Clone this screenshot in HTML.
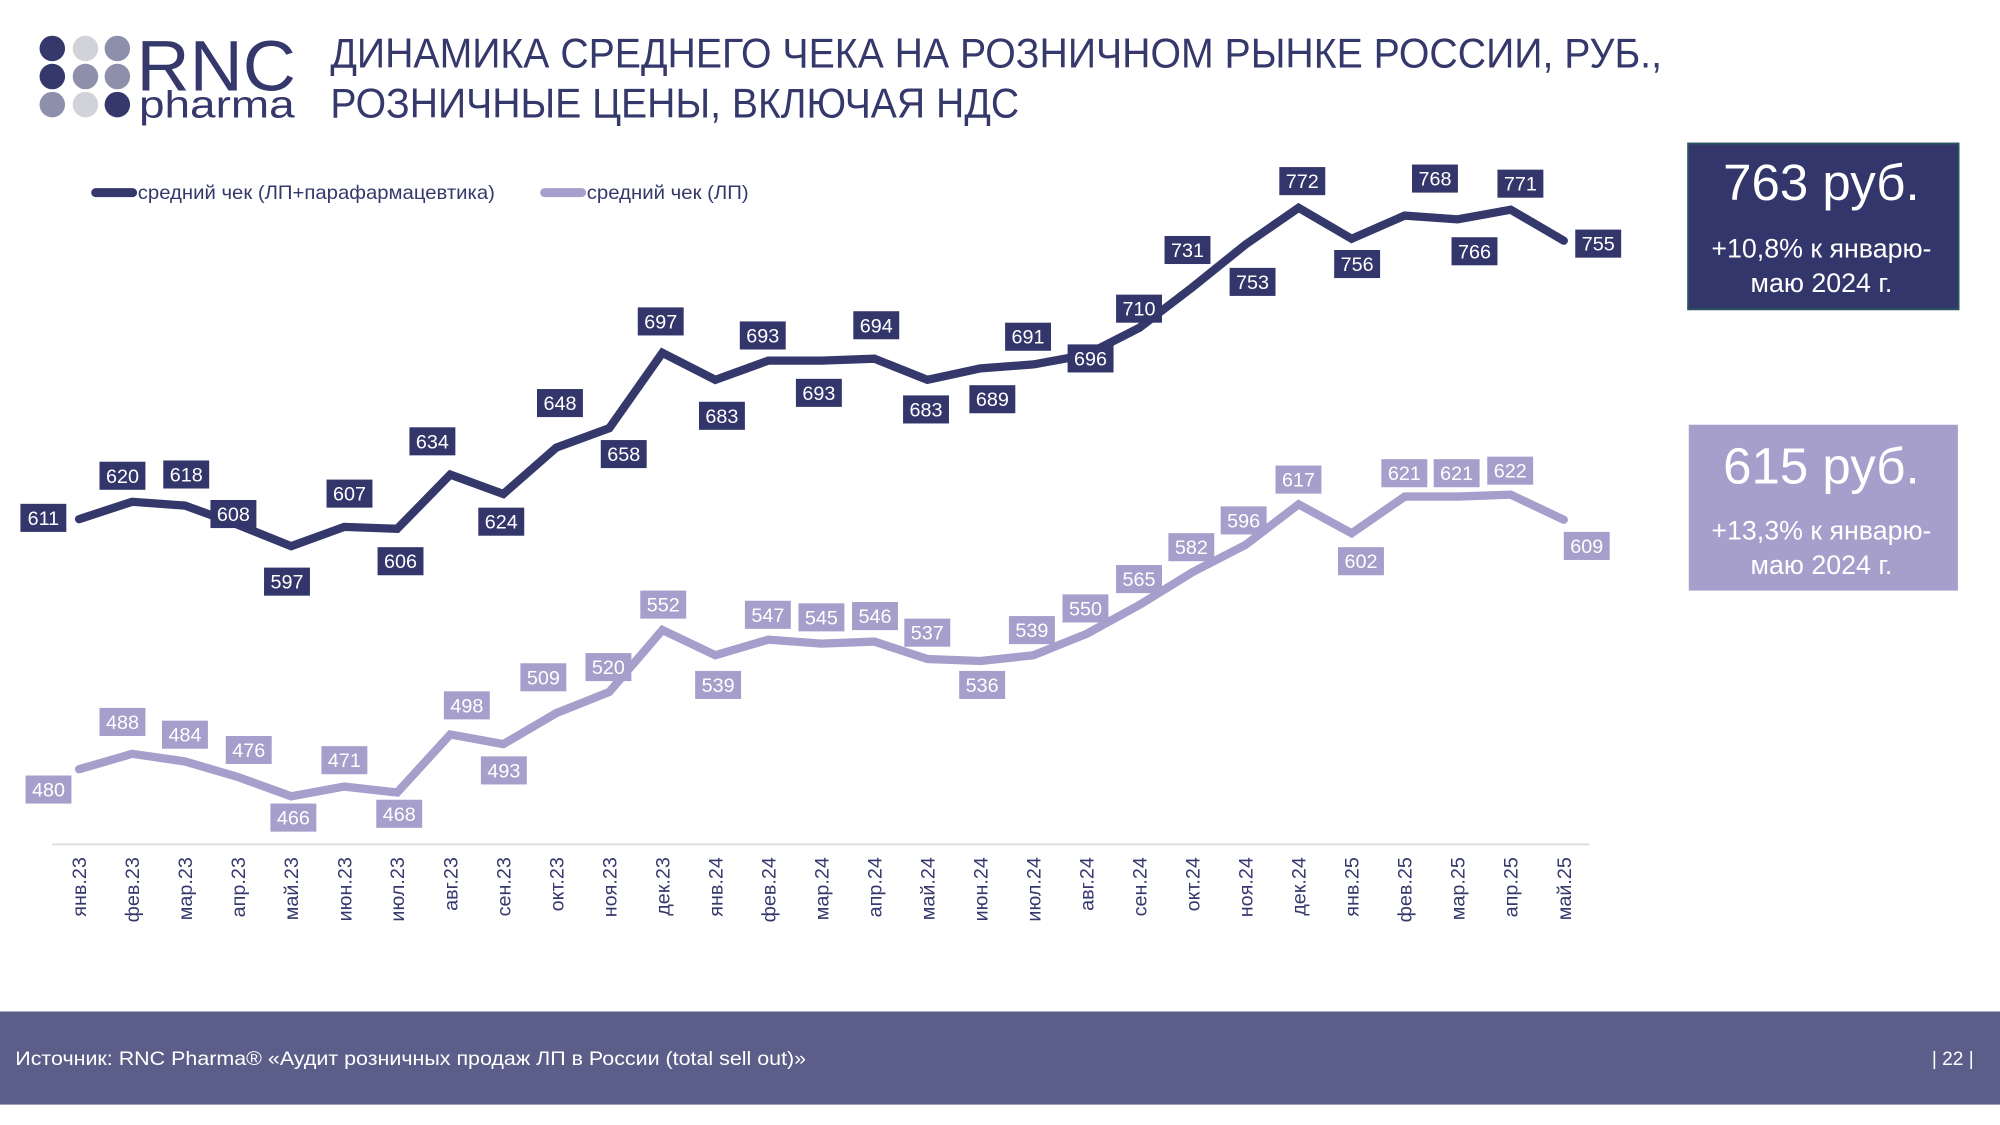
<!DOCTYPE html>
<html><head><meta charset="utf-8">
<style>
html,body{margin:0;padding:0;background:#fff;}
svg{display:block;}
text{font-family:"Liberation Sans",sans-serif;}
</style></head>
<body>
<svg id="s" width="2000" height="1125" viewBox="0 0 1568 882" xmlns="http://www.w3.org/2000/svg">
<rect width="1568" height="882" fill="#fff"/>
<g>
<circle cx="41" cy="38" r="10" fill="#35386b"/><circle cx="67" cy="38" r="10" fill="#d2d2da"/><circle cx="92" cy="38" r="10" fill="#8e8fab"/>
<circle cx="41" cy="60" r="10" fill="#35386b"/><circle cx="67" cy="60" r="10" fill="#8e8fab"/><circle cx="92" cy="60" r="10" fill="#8e8fab"/>
<circle cx="41" cy="82" r="10" fill="#8e8fab"/><circle cx="67" cy="82" r="10" fill="#d2d2da"/><circle cx="92" cy="82" r="10" fill="#35386b"/>
<text x="107" y="71" font-size="56" fill="#35386b" textLength="125" lengthAdjust="spacingAndGlyphs">RNC</text>
<text x="109" y="92" font-size="30" fill="#35386b" textLength="122" lengthAdjust="spacingAndGlyphs">pharma</text>
</g>
<text x="259" y="53" font-size="33" fill="#35386b" textLength="1044" lengthAdjust="spacingAndGlyphs">ДИНАМИКА СРЕДНЕГО ЧЕКА НА РОЗНИЧНОМ РЫНКЕ РОССИИ, РУБ.,</text>
<text x="259" y="92" font-size="33" fill="#35386b" textLength="540" lengthAdjust="spacingAndGlyphs">РОЗНИЧНЫЕ ЦЕНЫ, ВКЛЮЧАЯ НДС</text>
<line x1="75" y1="151" x2="104" y2="151" stroke="#35386b" stroke-width="7" stroke-linecap="round"/>
<text x="108" y="156" font-size="15" fill="#35386b" textLength="280" lengthAdjust="spacingAndGlyphs">средний чек (ЛП+парафармацевтика)</text>
<line x1="427" y1="151" x2="456" y2="151" stroke="#a69ecb" stroke-width="7" stroke-linecap="round"/>
<text x="460" y="156" font-size="15" fill="#35386b" textLength="127" lengthAdjust="spacingAndGlyphs">средний чек (ЛП)</text>
<line x1="41" y1="662" x2="1246" y2="662" stroke="#d9d9d9" stroke-width="1.3"/>
<g id="g"></g>
<rect x="1323.5" y="112.5" width="212" height="130" fill="#33366a" stroke="#2a5560" stroke-width="1.5"/>
<text x="1428" y="157" font-size="40" fill="#fff" text-anchor="middle">763 руб.</text>
<text x="1428" y="202" font-size="21" fill="#fff" text-anchor="middle">+10,8% к январю-</text>
<text x="1428" y="229" font-size="21" fill="#fff" text-anchor="middle">маю 2024 г.</text>
<rect x="1324" y="333" width="211" height="130" fill="#a69ecb"/>
<text x="1428" y="379" font-size="40" fill="#fff" text-anchor="middle">615 руб.</text>
<text x="1428" y="423" font-size="21" fill="#fff" text-anchor="middle">+13,3% к январю-</text>
<text x="1428" y="450" font-size="21" fill="#fff" text-anchor="middle">маю 2024 г.</text>
<rect x="0" y="793" width="1568" height="73" fill="#5c5e8a"/>
<text x="12" y="835" font-size="15" fill="#fff" textLength="620" lengthAdjust="spacingAndGlyphs">Источник: RNC Pharma® «Аудит розничных продаж ЛП в России (total sell out)»</text>
<text x="1531" y="835" font-size="15" fill="#fff" text-anchor="middle">| 22 |</text>
</svg>
<script>
var dark=[611,620,618,608,597,607,606,634,624,648,658,697,683,693,693,694,683,689,691,696,710,731,753,772,756,768,766,771,755];
var light=[480,488,484,476,466,471,468,498,493,509,520,552,539,547,545,546,537,536,539,550,565,582,596,617,602,621,621,622,609];
var dl=[[34,406],[96,373],[146,372],[183,403],[225,456],[274,387],[314,440],[339,346],[393,409],[439,316],[489,356],[518,252],[566,326],[598,263],[642,308],[687,255],[726,321],[778,313],[806,264],[855,281],[893,242],[931,196],[982,221],[1021,142],[1064,207],[1125,140],[1156,197],[1192,144],[1253,191]];
var ll=[[38,619],[96,566],[145,576],[195,588],[230,641],[270,596],[313,638],[366,553],[395,604],[426,531],[477,523],[520,474],[563,537],[602,482],[644,484],[686,483],[727,496],[770,537],[809,494],[851,477],[893,454],[934,429],[975,408],[1018,376],[1067,440],[1101,371],[1142,371],[1184,369],[1244,428]];
var m=["янв","фев","мар","апр","май","июн","июл","авг","сен","окт","ноя","дек"];
function X(i){return 62+i*41.57;}
function Y(v){return 407-(v-611)*1.516;}
var h="";
function line(a,c,off){var p=a.map(function(v,i){return X(i).toFixed(1)+","+(Y(v)+off).toFixed(1)}).join(" ");
h+='<polyline points="'+p+'" fill="none" stroke="'+c+'" stroke-width="6.5" stroke-linejoin="miter" stroke-linecap="round"/>';}
line(light,"#a69ecb",-2.5);line(dark,"#35386b",0);
function labs(a,L,c){a.forEach(function(v,i){var x=L[i][0],y=L[i][1];
h+='<rect x="'+(x-18)+'" y="'+(y-11)+'" width="36" height="22" fill="'+c+'"/>';
h+='<text x="'+x+'" y="'+(y+5.5)+'" font-size="15.5" fill="#fff" text-anchor="middle">'+v+'</text>';});}
labs(light,ll,"#a69ecb");labs(dark,dl,"#33366a");
for(var i=0;i<29;i++){var mm=m[i%12]+"."+(23+Math.floor(i/12));var x=X(i)+5.5;
h+='<text transform="translate('+x.toFixed(1)+',672) rotate(-90)" font-size="15.5" fill="#35386b" text-anchor="end">'+mm+'</text>';}
document.getElementById("g").innerHTML=h;
</script>
</body></html>
